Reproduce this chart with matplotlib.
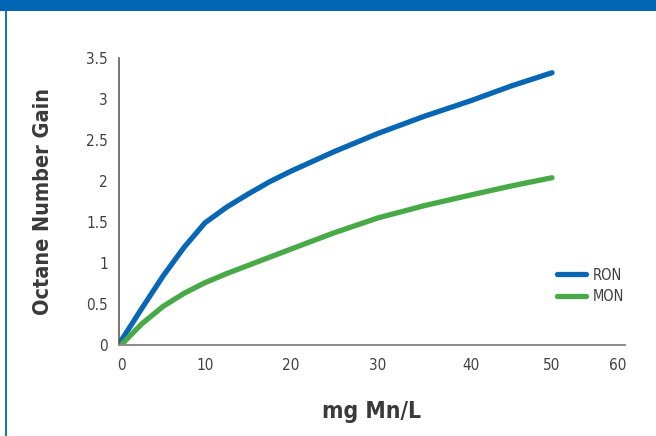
import numpy as np
import matplotlib
matplotlib.use("Agg")
from matplotlib import pyplot as plt
from matplotlib.patches import Rectangle

# data
mn_dose = [0, 2.5, 5, 7.5, 10, 12.5, 15, 17.5, 20, 25, 30, 35, 40, 45, 50]
ron_gain = [0.05, 0.45, 0.84, 1.19, 1.49, 1.68, 1.84, 1.99, 2.12, 2.36, 2.58, 2.79, 2.98, 3.16, 3.32]
mon_gain = [0.0, 0.26, 0.47, 0.63, 0.76, 0.87, 0.97, 1.07, 1.17, 1.37, 1.55, 1.70, 1.83, 1.94, 2.04]
x_ticks = [0, 10, 20, 30, 40, 50, 60]
y_ticks = [0, 0.5, 1, 1.5, 2, 2.5, 3, 3.5]
y_tick_labels = ["0", "0.5", "1", "1.5", "2", "2.5", "3", "3.5"]

# the original x axis is not evenly spaced: map tick values to where they sit
scale_vals = [-0.25, 0, 10, 20, 30, 40, 50, 60, 61.1]
scale_pos = [119, 121, 205, 291, 378, 471, 552, 618, 625]

def fwd(v):
    return np.interp(v, scale_vals, scale_pos)

def inv(p):
    return np.interp(p, scale_pos, scale_vals)

plt.rcParams['font.family'] = ['DejaVu Sans']
plt.rcParams['font.stretch'] = 'condensed'

fig = plt.figure(figsize=(6.56, 4.36), dpi=100)
ax = fig.add_axes([119 / 656, 1 - 345 / 436, (625 - 119) / 656, (345 - 58) / 436])

ax.plot(mn_dose, ron_gain, color='#0767b5', lw=3.8, solid_capstyle='round',
        solid_joinstyle='round', label='RON')
ax.plot(mn_dose, mon_gain, color='#47aa47', lw=3.8, solid_capstyle='round',
        solid_joinstyle='round', label='MON')

ax.set_xscale('function', functions=(fwd, inv))
ax.set_xlim(-0.25, 61.1)
ax.set_ylim(0, 3.5)
ax.set_xticks(x_ticks)
ax.set_xticklabels([str(t) for t in x_ticks])
ax.set_yticks(y_ticks)
ax.set_yticklabels(y_tick_labels)
ax.minorticks_off()
ax.tick_params(length=0, labelsize=11, labelcolor='#404040')
ax.tick_params(axis='y', pad=8)
ax.tick_params(axis='x', pad=9)

for s in ['top', 'right']:
    ax.spines[s].set_visible(False)
ax.spines['left'].set_color('#505050')
ax.spines['left'].set_linewidth(1.1)
ax.spines['bottom'].set_color('#8a8a8a')
ax.spines['bottom'].set_linewidth(1.4)

ax.set_ylabel('Octane Number Gain', fontsize=15.5, fontweight='bold', color='#3a3a3a', labelpad=24)
ax.set_xlabel('mg Mn/L', fontsize=16.5, fontweight='bold', color='#3a3a3a', labelpad=20)

ax.legend(loc='center left', bbox_to_anchor=(0.866, 0.206), frameon=False,
          borderpad=0, borderaxespad=0, handlelength=2.0, handletextpad=0.45,
          labelspacing=0.45, fontsize=10.5, labelcolor='#404040')

# blue frame: bar on top, thin line on the left
fig.add_artist(Rectangle((0, 1 - 11 / 436), 1, 11 / 436, transform=fig.transFigure,
                         color='#0066b3', lw=0))
fig.add_artist(Rectangle((5 / 656, 0), 2 / 656, 1 - 11 / 436, transform=fig.transFigure,
                         color='#1a72bb', lw=0))

fig.savefig('out.png', dpi=100)
